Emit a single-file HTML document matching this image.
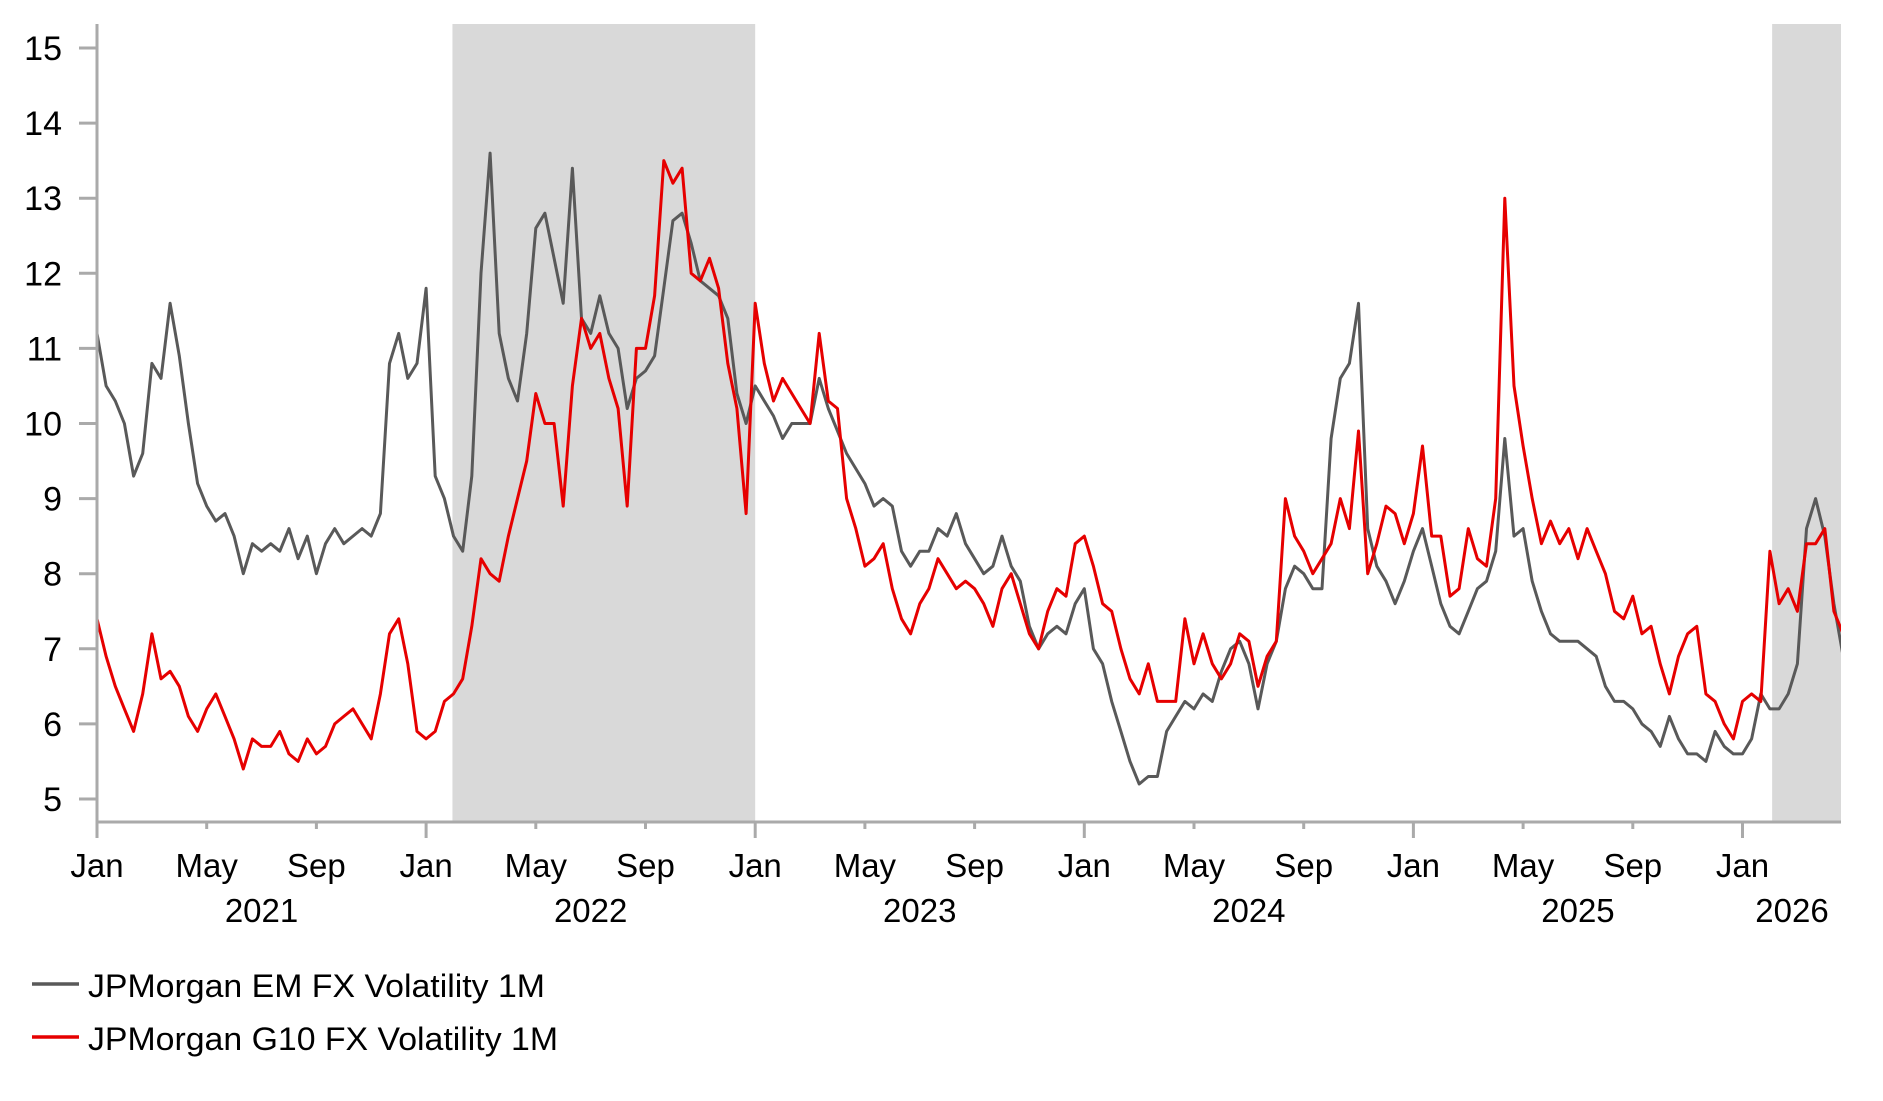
<!DOCTYPE html>
<html><head><meta charset="utf-8">
<style>
html,body{margin:0;padding:0;background:#fff;}
svg{display:block;font-family:"Liberation Sans",Arial,sans-serif;}
</style></head>
<body>
<svg id="chart" width="1883" height="1101" viewBox="0 0 1883 1101">
  <g id="shades"></g>
  <g id="series"></g>
  <g id="axes"></g>
  <g id="legend">
    <g>
      <line x1="32" y1="984" x2="79" y2="984" stroke="#595959" stroke-width="3.5"/>
      <text x="88" y="997" font-size="32" textLength="457" lengthAdjust="spacingAndGlyphs" fill="#000">JPMorgan EM FX Volatility 1M</text>
    </g>
    <g>
      <line x1="32" y1="1037" x2="79" y2="1037" stroke="#e60000" stroke-width="3.5"/>
      <text x="88" y="1050" font-size="32" textLength="470" lengthAdjust="spacingAndGlyphs" fill="#000">JPMorgan G10 FX Volatility 1M</text>
    </g>
  </g>
</svg>
<script>
// ---- data (36 samples per year, starting Jan 2021) ----
const startYear = 2021;
const samplesPerYear = 36;
const emValues = [
11.2,10.5,10.3,10.0,9.3,9.6,10.8,10.6,11.6,10.9,10.0,9.2,8.9,8.7,8.8,8.5,8.0,8.4,8.3,8.4,8.3,8.6,8.2,8.5,8.0,8.4,8.6,8.4,8.5,8.6,8.5,8.8,10.8,11.2,10.6,10.8,
11.8,9.3,9.0,8.5,8.3,9.3,12.0,13.6,11.2,10.6,10.3,11.2,12.6,12.8,12.2,11.6,13.4,11.4,11.2,11.7,11.2,11.0,10.2,10.6,10.7,10.9,11.8,12.7,12.8,12.4,11.9,11.8,11.7,11.4,10.4,10.0,
10.5,10.3,10.1,9.8,10.0,10.0,10.0,10.6,10.2,9.9,9.6,9.4,9.2,8.9,9.0,8.9,8.3,8.1,8.3,8.3,8.6,8.5,8.8,8.4,8.2,8.0,8.1,8.5,8.1,7.9,7.3,7.0,7.2,7.3,7.2,7.6,
7.8,7.0,6.8,6.3,5.9,5.5,5.2,5.3,5.3,5.9,6.1,6.3,6.2,6.4,6.3,6.7,7.0,7.1,6.8,6.2,6.8,7.1,7.8,8.1,8.0,7.8,7.8,9.8,10.6,10.8,11.6,8.6,8.1,7.9,7.6,7.9,
8.3,8.6,8.1,7.6,7.3,7.2,7.5,7.8,7.9,8.3,9.8,8.5,8.6,7.9,7.5,7.2,7.1,7.1,7.1,7.0,6.9,6.5,6.3,6.3,6.2,6.0,5.9,5.7,6.1,5.8,5.6,5.6,5.5,5.9,5.7,5.6,
5.6,5.8,6.4,6.2,6.2,6.4,6.8,8.6,9.0,8.5,7.6,6.9
];
const g10Values = [
7.4,6.9,6.5,6.2,5.9,6.4,7.2,6.6,6.7,6.5,6.1,5.9,6.2,6.4,6.1,5.8,5.4,5.8,5.7,5.7,5.9,5.6,5.5,5.8,5.6,5.7,6.0,6.1,6.2,6.0,5.8,6.4,7.2,7.4,6.8,5.9,
5.8,5.9,6.3,6.4,6.6,7.3,8.2,8.0,7.9,8.5,9.0,9.5,10.4,10.0,10.0,8.9,10.5,11.4,11.0,11.2,10.6,10.2,8.9,11.0,11.0,11.7,13.5,13.2,13.4,12.0,11.9,12.2,11.8,10.8,10.2,8.8,
11.6,10.8,10.3,10.6,10.4,10.2,10.0,11.2,10.3,10.2,9.0,8.6,8.1,8.2,8.4,7.8,7.4,7.2,7.6,7.8,8.2,8.0,7.8,7.9,7.8,7.6,7.3,7.8,8.0,7.6,7.2,7.0,7.5,7.8,7.7,8.4,
8.5,8.1,7.6,7.5,7.0,6.6,6.4,6.8,6.3,6.3,6.3,7.4,6.8,7.2,6.8,6.6,6.8,7.2,7.1,6.5,6.9,7.1,9.0,8.5,8.3,8.0,8.2,8.4,9.0,8.6,9.9,8.0,8.4,8.9,8.8,8.4,
8.8,9.7,8.5,8.5,7.7,7.8,8.6,8.2,8.1,9.0,13.0,10.5,9.7,9.0,8.4,8.7,8.4,8.6,8.2,8.6,8.3,8.0,7.5,7.4,7.7,7.2,7.3,6.8,6.4,6.9,7.2,7.3,6.4,6.3,6.0,5.8,
6.3,6.4,6.3,8.3,7.6,7.8,7.5,8.4,8.4,8.6,7.5,7.2
];
const shadeStarts = [2022.08, 2026.09];
const shadeEnds = [2023.0, 2026.4];
const yTicks = [5,6,7,8,9,10,11,12,13,14,15];
const majorTickYears = [2021,2022,2023,2024,2025,2026];
const monthLabels = ["Jan","May","Sep"];
const yearLabels = ["2021","2022","2023","2024","2025","2026"];

// ---- geometry ----
const L = 97, R = 1841, T = 24, B = 822;
const X0 = 97, PX_PER_YEAR = 329.1;
const xScale = yr => X0 + (yr - startYear) * PX_PER_YEAR;
const yScale = v => 48 + (15 - v) * 75.1;
const NS = "http://www.w3.org/2000/svg";
function mk(tag, attrs, parent) {
  const e = document.createElementNS(NS, tag);
  for (const k in attrs) e.setAttribute(k, attrs[k]);
  parent.appendChild(e);
  return e;
}

// clip
const defs = mk("defs", {}, document.getElementById("chart"));
const cp = mk("clipPath", {id: "plotclip"}, defs);
mk("rect", {x: L, y: T, width: R - L, height: B - T}, cp);

// shades
const sg = document.getElementById("shades");
shadeStarts.forEach((s, i) => {
  const x1 = Math.max(L, xScale(s)), x2 = Math.min(R, xScale(shadeEnds[i]));
  const r = mk("rect", {x: x1, y: T, width: x2 - x1, height: B - T, fill: "#d9d9d9"}, sg);
  
  
});

// series
const seriesG = document.getElementById("series");
seriesG.setAttribute("clip-path", "url(#plotclip)");
function drawSeries(vals, color, name) {
  const d = vals.map((v, i) => (i ? "L" : "M") + xScale(startYear + i / samplesPerYear).toFixed(1) + "," + yScale(v).toFixed(1)).join("");
  const p = mk("path", {d: d, fill: "none", stroke: color, "stroke-width": 3, "stroke-linejoin": "round"}, seriesG);
  
  
}
drawSeries(emValues, "#595959", "em-fx-volatility-line");
drawSeries(g10Values, "#e60000", "g10-fx-volatility-line");

// axes
const ag = document.getElementById("axes");
const yAxis = mk("line", {x1: L, y1: T, x2: L, y2: B + 1.5, stroke: "#aaaaaa", "stroke-width": 3}, ag);


const xAxis = mk("line", {x1: L - 1.5, y1: B, x2: R, y2: B, stroke: "#aaaaaa", "stroke-width": 3}, ag);



yTicks.forEach(v => {
  const y = yScale(v);
  const t = mk("line", {x1: 79, y1: y, x2: L, y2: y, stroke: "#aaaaaa", "stroke-width": 3}, ag);
  
  
  const lb = mk("text", {x: 62, y: y + 12, "font-size": 34, "text-anchor": "end", fill: "#000"}, ag);
  lb.textContent = v;
  
  
});

majorTickYears.forEach((yr, i) => {
  for (let m = 0; m < 3; m++) {
    const x = xScale(yr + m * 4 / 12);
    if (x > R) continue;
    const t = mk("line", {x1: x, y1: B, x2: x, y2: m === 0 ? 838 : 829, stroke: "#aaaaaa", "stroke-width": 3}, ag);
    
    
    if (yr === 2026 && m > 0) continue;
    const lb = mk("text", {x: x, y: 877, "font-size": 33, "text-anchor": "middle", fill: "#000"}, ag);
    lb.textContent = monthLabels[m];
    
    
  }
  const cx = yr === 2026 ? 1792 : xScale(yr + 0.5);
  const yl = mk("text", {x: cx, y: 922, "font-size": 33, "text-anchor": "middle", fill: "#000"}, ag);
  yl.textContent = yearLabels[i];
  
  
});
</script>
</body></html>
